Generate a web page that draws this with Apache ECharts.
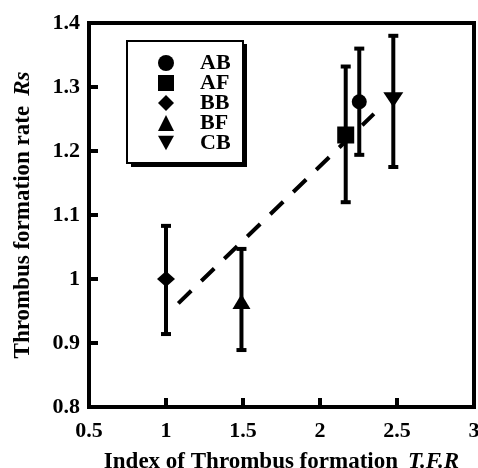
<!DOCTYPE html>
<html lang="en">
<head>
    <meta charset="UTF-8">
    <title>Thrombus formation</title>
    <script src="https://cdn.jsdelivr.net/npm/echarts@6/dist/echarts.min.js"></script>
    <style>
    body{margin:0;background:#fff;}
    #main{width:478px;height:468px;}
    </style>
</head>
<body>
    <div id="main"></div>
<script>
// groups and measured values
var names = ['AB', 'AF', 'BB', 'BF', 'CB'];
var tfr = [2.255, 2.167, 1.0, 1.49, 2.476];      // x: index T.F.R
var rs = [1.277, 1.225, 1.0, 0.965, 1.28];       // y: rate Rs
var rsLow = [1.194, 1.12, 0.914, 0.889, 1.175];
var rsHigh = [1.36, 1.332, 1.083, 1.047, 1.38];
// fitted dashed line end points
var fitX = [1.08, 2.35];
var fitY = [0.962, 1.258];

var symbols = ['circle', 'rect', 'diamond', 'triangle', 'path://M0,0 L10,0 L5,9 Z'];
var sizes = [15, 17, [18, 16], [18, 15], [20, 15]];

var serif = '"Liberation Serif", "Times New Roman", serif';
var mychart = echarts.init(document.getElementById('main'));

var series = [];
// error bars first so markers sit on top
series.push({
    type: 'custom',
    name: 'err',
    z: 3,
    data: names.map(function (n, i) { return [tfr[i], rsLow[i], rsHigh[i]]; }),
    renderItem: function (params, api) {
        var lo = api.coord([api.value(0), api.value(1)]);
        var hi = api.coord([api.value(0), api.value(2)]);
        var cw = 5;
        var st = { stroke: '#000', lineWidth: 4 };
        return {
            type: 'group',
            children: [
                { type: 'line', shape: { x1: lo[0], y1: lo[1], x2: hi[0], y2: hi[1] }, style: st },
                { type: 'line', shape: { x1: lo[0] - cw, y1: lo[1], x2: lo[0] + cw, y2: lo[1] }, style: st },
                { type: 'line', shape: { x1: hi[0] - cw, y1: hi[1], x2: hi[0] + cw, y2: hi[1] }, style: st }
            ]
        };
    }
});
series.push({
    type: 'line',
    name: 'fit',
    z: 2,
    symbol: 'none',
    data: [[fitX[0], fitY[0]], [fitX[1], fitY[1]]],
    lineStyle: { color: '#000', width: 4, type: [18, 14] }
});
names.forEach(function (n, i) {
    series.push({
        type: 'scatter',
        name: n,
        z: 5,
        symbol: symbols[i],
        symbolSize: sizes[i],
        itemStyle: { color: '#000', opacity: 1 },
        data: [[tfr[i], rs[i]]]
    });
});

var titleRich = {
    a: { fontFamily: serif, fontWeight: 'bold', fontSize: 23, color: '#000' },
    b: { fontFamily: serif, fontWeight: 'bold', fontStyle: 'italic', fontSize: 23, color: '#000' }
};

var option = {
    animation: false,
    backgroundColor: '#fff',
    grid: {
        left: 89, right: 4, top: 23, bottom: 61,
        outerBoundsMode: 'none',
        containLabel: false,
        show: true, borderColor: '#000', borderWidth: 4
    },
    // legend frame with a solid drop shadow
    graphic: [
        { type: 'rect', z: 10, shape: { x: 131, y: 44, width: 116, height: 123 }, style: { fill: '#000' } },
        { type: 'rect', z: 11, shape: { x: 127, y: 41, width: 116, height: 122 }, style: { fill: '#fff', stroke: '#000', lineWidth: 2 } }
    ],
    legend: {
        orient: 'vertical',
        left: 128,
        top: 40,
        z: 12,
        padding: [12, 20, 15, 30],
        itemGap: -2,
        itemWidth: 16,
        itemHeight: 16,
        data: names.map(function (n, i) { return { name: n, icon: symbols[i] }; }),
        textStyle: {
            fontFamily: serif, fontWeight: 'bold', fontSize: 22, color: '#000',
            padding: [0, 0, 0, 21]
        }
    },
    xAxis: {
        type: 'value',
        min: 0.5, max: 3, interval: 0.5,
        name: '{a|Index of Thrombus formation}   {b|T.F.R}',
        nameLocation: 'middle',
        nameGap: 44,
        nameTextStyle: { rich: titleRich },
        axisLine: { show: false },
        axisTick: { show: true, inside: true, length: 9, lineStyle: { color: '#000', width: 4 } },
        axisLabel: { margin: 13, fontFamily: serif, fontWeight: 'bold', fontSize: 22, color: '#000' },
        splitLine: { show: false }
    },
    yAxis: {
        type: 'value',
        min: 0.8, max: 1.4, interval: 0.1,
        name: '{a|Thrombus formation rate}   {b|Rs}',
        nameLocation: 'middle',
        nameGap: 54,
        nameTextStyle: { rich: titleRich },
        axisLine: { show: false },
        axisTick: { show: true, inside: true, length: 9, lineStyle: { color: '#000', width: 4 } },
        axisLabel: { margin: 9, fontFamily: serif, fontWeight: 'bold', fontSize: 22, color: '#000' },
        splitLine: { show: false }
    },
    series: series
};
mychart.setOption(option);
</script>
</body>
</html>
